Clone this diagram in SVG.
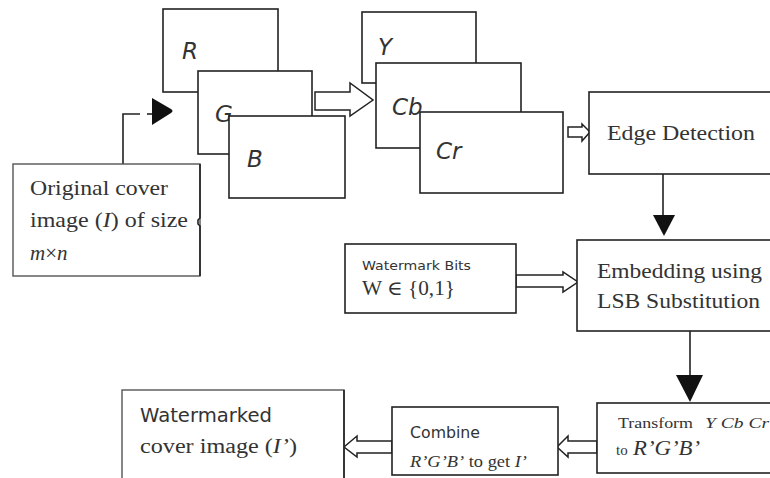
<svg xmlns="http://www.w3.org/2000/svg" width="770" height="478" viewBox="0 0 770 478">
<style>
.b{fill:#fff;stroke:#222;stroke-width:1.6}
.g{fill:#fff;stroke:#555;stroke-width:1.4}
.h{fill:#fff;stroke:#222;stroke-width:1.5;stroke-linejoin:miter}
.ln{fill:none;stroke:#222;stroke-width:1.6}
.sr{font-family:"Liberation Serif","DejaVu Serif",serif;fill:#333}
.ss{font-family:"DejaVu Sans","Liberation Sans",sans-serif;fill:#333}
.it{font-family:"DejaVu Sans","Liberation Sans",sans-serif;font-style:italic;fill:#333;font-size:23px}
</style>
<rect width="770" height="478" fill="#fff"/>
<g id="connectors">
<path class="ln" d="M123,164 V114 H140" stroke="#666"/>
<path class="ln" d="M147,114 H153"/>
<path d="M152,98 L171,109 Q174,111 171,113 L152,125 Z" fill="#111"/>
<path class="h" d="M315,92 H350 V83 L373,100 L350,116 V110 H315 Z"/>
<path class="h" d="M568,127 H582 V124 L590,132 L582,141 V137 H568 Z"/>
<path class="ln" d="M663,174 V216"/>
<path d="M653,215 H675 L664,236 Z" fill="#111"/>
<path class="h" d="M516,275 H563 V272 L578,282 L563,292 V287 H516 Z"/>
<path class="ln" d="M690,331 V376"/>
<path d="M676,375 H703 L690,402 Z" fill="#111"/>
<path class="h" d="M597,441 H568 V436 L557,447 L568,457 V453 H597 Z"/>
<path class="h" d="M392,441 H357 V436 L344,447 L357,457 V453 H392 Z"/>
</g>
<g id="node-original">
<rect class="g" x="13" y="164" width="187" height="112"/>
<path class="ln" d="M200,164 V218 L198,220 V224 L200,226 V276"/>
<text class="sr" x="30" y="195" font-size="21" textLength="138" lengthAdjust="spacingAndGlyphs">Original cover</text>
<text class="sr" x="30" y="227" font-size="21" textLength="158" lengthAdjust="spacingAndGlyphs">image (<tspan font-style="italic">I</tspan>) of size</text>
<text class="sr" x="30" y="260" font-size="21" font-style="italic">m<tspan font-style="normal">×</tspan>n</text>
</g>
<g id="node-R"><rect class="b" x="163" y="9" width="115" height="83"/><text class="it" x="182" y="59">R</text></g>
<g id="node-G"><rect class="b" x="198" y="71" width="114" height="83"/><text class="it" x="215" y="122">G</text></g>
<g id="node-B"><rect class="b" x="229" y="116" width="116" height="82"/><text class="it" x="247" y="167">B</text></g>
<g id="node-Y"><rect class="b" x="362" y="12" width="114" height="71"/><text class="it" x="378" y="55">Y</text></g>
<g id="node-Cb"><rect class="b" x="376" y="63" width="145" height="85"/><text class="it" x="392" y="115">Cb</text></g>
<g id="node-Cr"><rect class="b" x="420" y="112" width="143" height="81"/><text class="it" x="436" y="159">Cr</text></g>
<g id="node-edge">
<rect class="b" x="589" y="92" width="190" height="82"/>
<text class="sr" x="607" y="140" font-size="20" textLength="148" lengthAdjust="spacingAndGlyphs">Edge Detection</text>
</g>
<g id="node-watermark">
<rect class="b" x="345" y="244" width="171" height="69"/>
<text class="ss" x="362" y="270" font-size="13" textLength="109" lengthAdjust="spacingAndGlyphs">Watermark Bits</text>
<text class="sr" x="362" y="295" font-size="20" textLength="93" lengthAdjust="spacingAndGlyphs">W ∈ {0,1}</text>
</g>
<g id="node-embed">
<rect class="b" x="577" y="240" width="200" height="91"/>
<text class="sr" x="597" y="278" font-size="22" textLength="165" lengthAdjust="spacingAndGlyphs">Embedding using</text>
<text class="sr" x="597" y="308" font-size="22" textLength="163" lengthAdjust="spacingAndGlyphs">LSB Substitution</text>
</g>
<g id="node-transform">
<rect class="b" x="597" y="403" width="180" height="70"/>
<text class="sr" x="618" y="428" font-size="15" textLength="75" lengthAdjust="spacingAndGlyphs">Transform</text>
<text class="sr" x="705" y="428" font-size="15" font-style="italic" textLength="64" lengthAdjust="spacingAndGlyphs">Y Cb Cr</text>
<text class="sr" x="616" y="455" font-size="15">to</text>
<text class="sr" x="633" y="455" font-size="21" font-style="italic" textLength="67" lengthAdjust="spacingAndGlyphs">R’G’B’</text>
</g>
<g id="node-combine">
<rect class="b" x="392" y="407" width="166" height="68"/>
<text class="ss" x="410" y="438" font-size="15" textLength="70" lengthAdjust="spacingAndGlyphs">Combine</text>
<text class="sr" x="410" y="467" font-size="17" textLength="117" lengthAdjust="spacingAndGlyphs"><tspan font-style="italic">R’G’B’</tspan> to get <tspan font-style="italic">I’</tspan></text>
</g>
<g id="node-watermarked">
<rect class="g" x="122" y="390" width="222" height="100"/>
<path class="ln" d="M344,390 V478"/>
<text class="ss" x="140" y="422" font-size="19" textLength="132" lengthAdjust="spacingAndGlyphs">Watermarked</text>
<text class="sr" x="140" y="453" font-size="20" textLength="157" lengthAdjust="spacingAndGlyphs">cover image (<tspan font-style="italic">I’</tspan>)</text>
</g>
</svg>
